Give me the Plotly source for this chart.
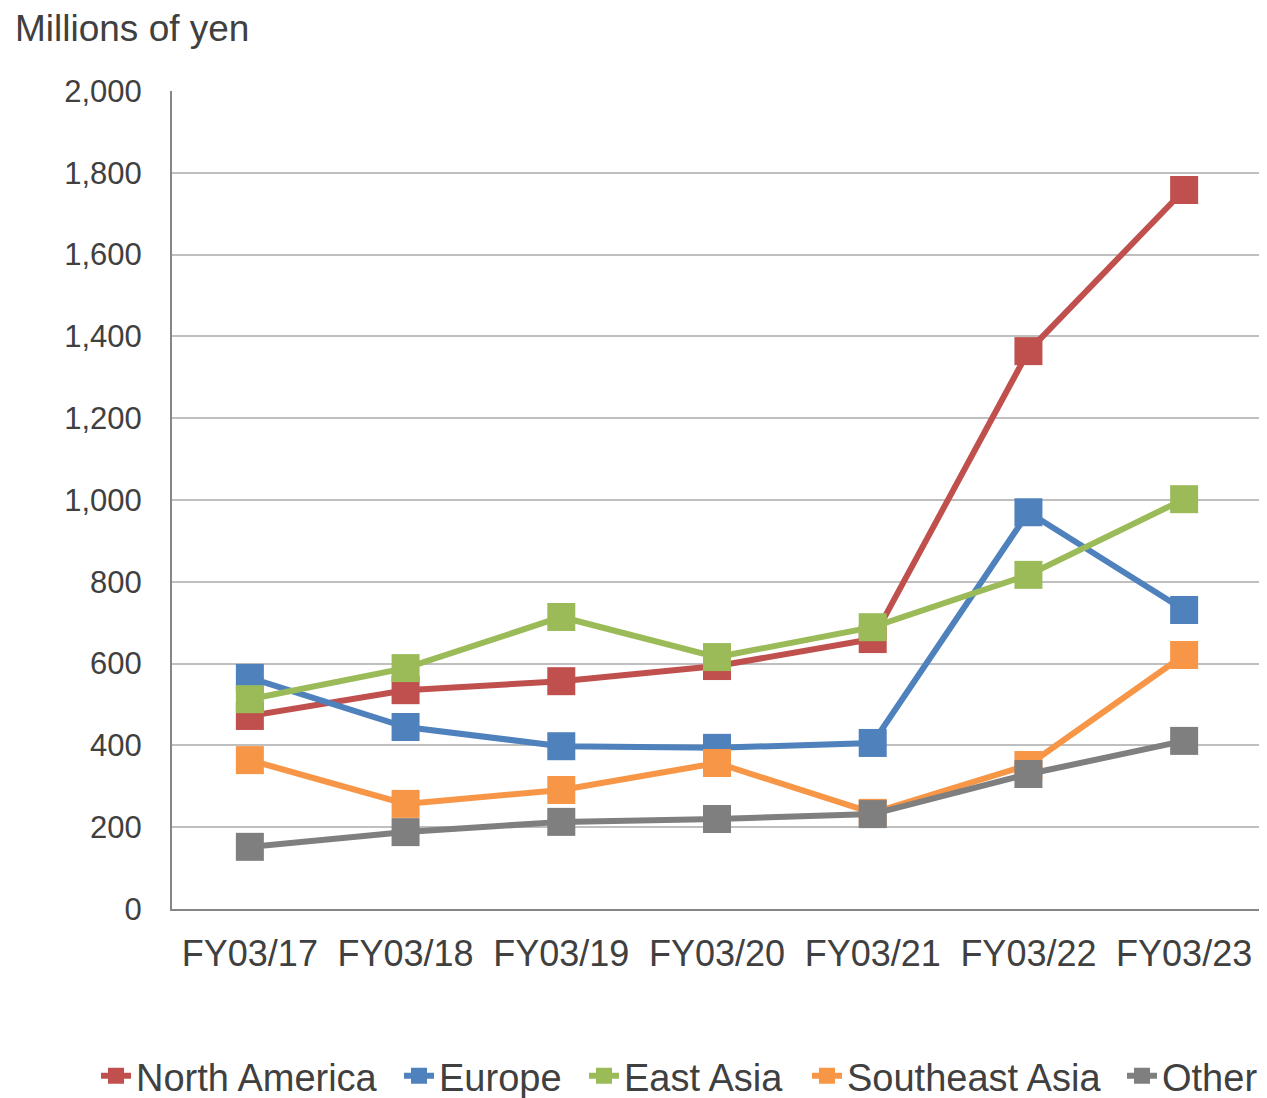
import plotly.graph_objects as go

categories = ["FY03/17", "FY03/18", "FY03/19", "FY03/20", "FY03/21", "FY03/22", "FY03/23"]
north_america = [472, 535, 557, 594, 660, 1364, 1758]
europe = [565, 445, 398, 394, 406, 970, 731]
east_asia = [513, 589, 714, 616, 689, 817, 1002]
southeast_asia = [364, 257, 291, 357, 235, 352, 621]
other = [152, 188, 213, 220, 232, 330, 411]

series = [
    ("North America", north_america, "#C0504D"),
    ("Europe", europe, "#4F81BD"),
    ("East Asia", east_asia, "#9BBB59"),
    ("Southeast Asia", southeast_asia, "#F79646"),
    ("Other", other, "#7F7F7F"),
]
# left edge (page px) of each legend entry's text in the reference
legend_text_x = [137, 440, 625, 848, 1163]

# page has an 8px body margin; compensate
W, H = 1259, 1090
OFF = 8
font_family = "Liberation Sans, Arial, sans-serif"

fig = go.Figure()
legend_layouts = {}
for i, (name, vals, col) in enumerate(series):
    lname = "legend" if i == 0 else f"legend{i + 1}"
    fig.add_trace(go.Scatter(
        x=categories, y=vals, name=name, mode="lines+markers",
        line=dict(color=col, width=6),
        marker=dict(symbol="square", size=28, color=col),
        legend=lname,
    ))
    legend_layouts[lname] = dict(
        orientation="h", xref="container", yref="container",
        x=(legend_text_x[i] - OFF - 41) / W, xanchor="left",
        y=(H - (1076 - OFF)) / H, yanchor="middle",
        font=dict(size=38, color="#404040", family=font_family),
        bgcolor="rgba(0,0,0,0)", itemwidth=30,
    )

fig.update_layout(
    width=W, height=H,
    margin=dict(l=164, r=5, t=83, b=189, autoexpand=False),
    paper_bgcolor="white", plot_bgcolor="white",
    font=dict(family=font_family, color="#404040", size=31),
    showlegend=True,
    xaxis=dict(type="category", range=[-0.5, 6.5], showgrid=False,
               showline=True, linecolor="#868686", linewidth=2,
               ticks="", tickfont=dict(size=36), ticklabelstandoff=12,
               automargin=False),
    yaxis=dict(range=[0, 2000], dtick=200, tickformat=",", showgrid=True,
               gridcolor="#BFBFBF", gridwidth=2, showline=True,
               linecolor="#868686", linewidth=2, ticks="",
               tickfont=dict(size=31), zeroline=False,
               ticklabelstandoff=22, automargin=False),
    annotations=[dict(text="Millions of yen", xref="paper", yref="paper",
                      x=(14 - 172) / 1090, xanchor="left",
                      y=1 + (91 - 29) / 818, yanchor="middle", borderpad=0,
                      showarrow=False, font=dict(size=37, color="#404040"))],
    **legend_layouts,
)
fig.write_html("out.html")
